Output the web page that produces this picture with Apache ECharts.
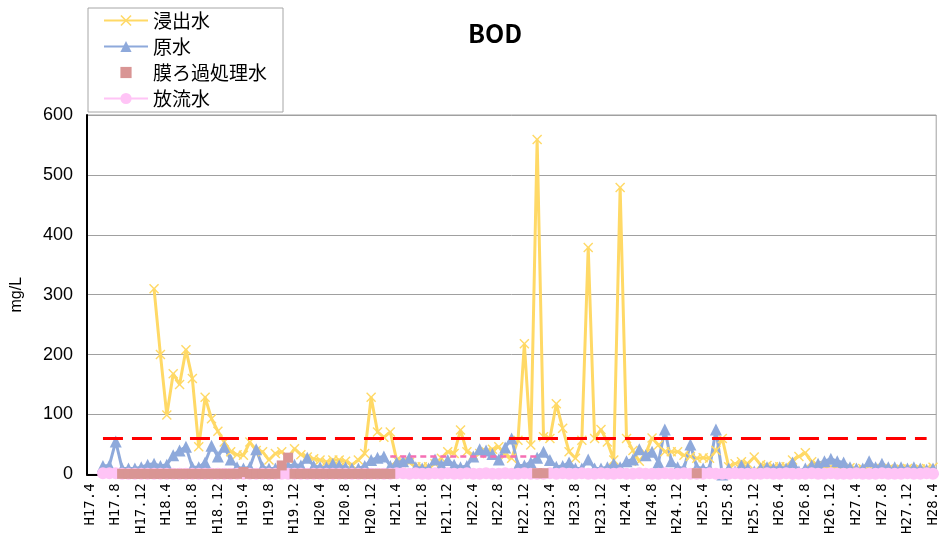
<!DOCTYPE html>
<html>
<head>
<meta charset="utf-8">
<script src="https://cdn.jsdelivr.net/npm/echarts@6/dist/echarts.min.js"></script>
<style>
  html, body { margin: 0; padding: 0; background: #fff; }
  #main { width: 940px; height: 537px; }
</style>
</head>
<body>
<div id="main"></div>
<script>
/*------------ BOD 推移 ------------
 月別カテゴリ H17.4 〜 H28.4
----------------------------------*/
var months = [];
for (var y = 17; y <= 28; y++) {
    for (var m = 1; m <= 12; m++) {
        if (y === 17 && m < 4) continue;
        if (y === 28 && m > 4) continue;
        months.push('H' + y + '.' + m);
    }
}

// 浸出水
var leachate = [
    null, null, null, null, null, null, null, null, null, null,
    310, 200, 99, 168, 150, 208, 160, 46, 129, 93,
    72, 54, 38, 33, 32, 54, 40, 38, 24, 35,
    38, 27, 43, 33, 29, 26, 24, 21, 24, 24,
    22, 16, 24, 35, 129, 71, 62, 71, 24, 21,
    20, 13, 13, 13, 18, 27, 38, 35, 74, 38,
    32, 35, 38, 42, 46, 32, 27, 57, 218, 49,
    559, 63, 60, 118, 77, 38, 27, 57, 379, 60,
    75, 54, 24, 479, 60, 40, 22, 35, 61, 49,
    38, 38, 38, 32, 30, 27, 28, 27, 40, 60,
    13, 18, 21, 18, 29, 16, 15, 13, 13, 13,
    24, 30, 36, 21, 15, 12, 13, 10, 9, 11,
    8, 10, 9, 8, 10, 9, 8, 9, 10, 8,
    9, 10, 12
];

// 原水
var rawWater = [
    null, null, 14, 15, 55, 10, 10, 10, 12, 16,
    18, 14, 16, 32, 40, 46, 12, 12, 20, 48,
    30, 46, 25, 12, 10, 12, 42, 12, 10, 10,
    12, 14, 16, 15, 28, 14, 12, 12, 18, 15,
    12, 10, 10, 14, 24, 28, 30, 14, 20, 22,
    28, 12, 10, 10, 25, 16, 24, 16, 12, 14,
    30, 42, 40, 34, 25, 45, 60, 15, 15, 20,
    28, 38, 24, 13, 14, 20, 10, 10, 25, 10,
    10, 12, 18, 12, 22, 25, 42, 32, 38, 20,
    75, 22, 12, 10, 50, 12, 10, 10, 75, 0,
    10, 5, 15, 10, 5, 10, 12, 10, 12, 10,
    20, 5, 10, 15, 18, 22, 26, 22, 20, 12,
    10, 10, 22, 12, 18, 12, 12, 12, 10, 12,
    10, 8, 10
];

// 膜ろ過処理水
var membrane = [
    null, null, null, null, null, 1, 1, 1, 1, 1,
    1, 1, 1, 1, 1, 1, 1, 1, 1, 1,
    1, 1, 1, 1, 4, 1, 1, 1, 1, 1,
    15, 28, 1, 1, 1, 1, 1, 1, 1, 1,
    1, 1, 1, 1, 1, 1, 1, 1, null, null,
    null, null, null, null, null, null, null, null, null, null,
    null, null, null, null, null, null, null, null, null, null,
    2, 2, null, null, null, null, null, null, null, null,
    null, null, null, null, null, null, null, null, null, null,
    null, null, null, null, null, 2, null, null, null, null,
    null, null, null, null, null, null, null, null, null, null,
    null, null, null, null, null, null, null, null, null, null,
    null, null, null, null, null, null, null, null, null, null,
    null, null, null
];

// 放流水
var discharge = [
    null, null, 2, 2, 2, 1, 1, 1, 1, 1,
    1, 1, 1, 1, 1, 1, 1, 1, 1, 1,
    1, 1, 1, 1, 1, 1, 1, 1, 1, 1,
    1, 1, 1, 1, 1, 1, 1, 1, 1, 1,
    1, 1, 1, 1, 1, 1, 1, 1, 2, 2,
    1, 2, 1, 1, 2, 1, 2, 1, 1, 2,
    1, 1, 2, 1, 1, 2, 1, 1, 2, 1,
    1, 1, 2, 1, 2, 1, 1, 2, 1, 1,
    2, 1, 1, 2, 1, 1, 2, 1, 1, 1,
    2, 1, 1, 2, 1, 1, 1, 2, 1, 1,
    1, 2, 1, 1, 1, 1, 2, 1, 1, 2,
    1, 1, 1, 2, 1, 1, 2, 1, 1, 1,
    2, 1, 1, 1, 2, 1, 1, 1, 2, 1,
    1, 2, 1
];

// 基準線
var limitRed = { from: 'H17.6', to: 'H28.3', value: 60 };
var limitPink = { from: 'H21.3', to: 'H23.2', value: 30 };

var crossSymbol = 'path://M1,0L5,4L9,0L10,1L6,5L10,9L9,10L5,6L1,10L0,9L4,5L0,1Z';

var chart = echarts.init(document.getElementById('main'));
var option = {
    animation: false,
    backgroundColor: '#fff',
    title: {
        text: 'BOD',
        left: 490,
        top: 16,
        textAlign: 'center',
        textStyle: {
            fontFamily: '"Noto Sans CJK JP", sans-serif',
            fontSize: 25,
            fontWeight: 'bold',
            color: '#000'
        }
    },
    legend: {
        orient: 'vertical',
        left: 88,
        top: 8,
        padding: [3, 16, 4, 15],
        itemGap: 7,
        itemWidth: 44,
        itemHeight: 14,
        borderColor: '#a6a6a6',
        borderWidth: 1,
        borderRadius: 0,
        backgroundColor: '#fff',
        data: ['浸出水', '原水', '膜ろ過処理水', '放流水'],
        textStyle: {
            fontFamily: '"Noto Sans CJK JP", sans-serif',
            fontSize: 19,
            lineHeight: 19,
            color: '#000'
        }
    },
    grid: {
        left: 87,
        right: 3,
        top: 115,
        bottom: 61,
        show: true,
        borderColor: '#a0a0a0',
        borderWidth: 1
    },
    xAxis: {
        type: 'category',
        data: months,
        boundaryGap: true,
        axisLine: { lineStyle: { color: '#000', width: 2 } },
        axisTick: { show: false },
        axisLabel: {
            interval: 3,
            rotate: 90,
            margin: 9,
            fontFamily: '"DejaVu Sans Mono", "Liberation Mono", monospace',
            fontSize: 14,
            color: '#000'
        },
        splitLine: { show: false }
    },
    yAxis: {
        type: 'value',
        min: 0,
        max: 600,
        interval: 100,
        name: 'mg/L',
        nameLocation: 'middle',
        nameGap: 62,
        nameRotate: 90,
        nameTextStyle: {
            fontFamily: '"Liberation Sans", Arial, sans-serif',
            fontSize: 16,
            color: '#000'
        },
        axisLine: { show: true, lineStyle: { color: '#000', width: 2 } },
        axisTick: { show: false },
        axisLabel: {
            margin: 14,
            fontFamily: '"Liberation Sans", Arial, sans-serif',
            fontSize: 18,
            color: '#000'
        },
        splitLine: { lineStyle: { color: '#a0a0a0', width: 1 } }
    },
    series: [
        {
            name: '浸出水',
            type: 'line',
            data: leachate,
            symbol: crossSymbol,
            symbolSize: 10,
            showAllSymbol: true,
            itemStyle: { color: '#FFD966' },
            lineStyle: { color: '#FFD966', width: 3 },
            markLine: {
                silent: true,
                symbol: 'none',
                label: { show: false },
                data: [
                    [
                        { coord: [limitRed.from, limitRed.value], lineStyle: { color: '#FF0000', width: 3, type: [20, 9] } },
                        { coord: [limitRed.to, limitRed.value] }
                    ],
                    [
                        { coord: [limitPink.from, limitPink.value], lineStyle: { color: '#F56FB4', width: 2.5, type: [6, 4] } },
                        { coord: [limitPink.to, limitPink.value] }
                    ]
                ]
            }
        },
        {
            name: '原水',
            type: 'line',
            data: rawWater,
            symbol: 'triangle',
            symbolSize: 12,
            showAllSymbol: true,
            itemStyle: { color: '#8EA9DB' },
            lineStyle: { color: '#8EA9DB', width: 3 }
        },
        {
            name: '放流水',
            type: 'line',
            data: discharge,
            symbol: 'circle',
            symbolSize: 12,
            showAllSymbol: true,
            itemStyle: { color: '#FFC4F6' },
            lineStyle: { color: '#FFC4F6', width: 4 }
        },
        {
            name: '膜ろ過処理水',
            type: 'line',
            z: 5,
            data: membrane,
            symbol: 'rect',
            symbolSize: 10,
            showAllSymbol: true,
            itemStyle: { color: '#D99594', opacity: 1 },
            lineStyle: { width: 0, opacity: 0 }
        }
    ]
};
chart.setOption(option);
</script>
</body>
</html>
